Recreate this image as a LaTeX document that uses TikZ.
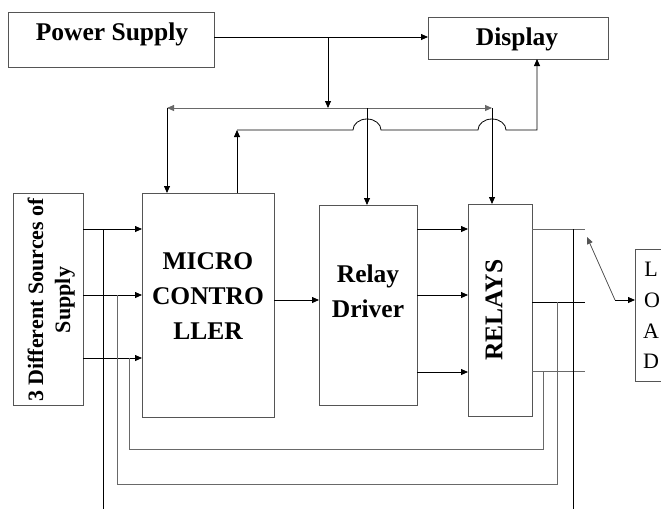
\documentclass[tikz,border=0pt]{standalone}
\usepackage{fontspec}
\setmainfont{Liberation Serif}
\usetikzlibrary{arrows.meta}
\definecolor{boxgray}{RGB}{85,85,85}
\definecolor{linegray}{RGB}{105,105,105}
\begin{document}
\begin{tikzpicture}[x=1pt,y=-1pt,
  box/.style={draw=boxgray, line width=0.9pt, inner sep=0pt, outer sep=0pt},
  lbl/.style={inner sep=0pt, outer sep=0pt, align=center, font=\bfseries\fontsize{25.5}{35}\selectfont},
  lbls/.style={inner sep=0pt, outer sep=0pt, align=center, font=\bfseries\fontsize{22}{27}\selectfont},
  ltr/.style={inner sep=0pt, outer sep=0pt, font=\fontsize{22}{26}\selectfont},
  arr/.style={line width=0.8pt, -{Triangle[length=7pt,width=6pt]}},
  ln/.style={line width=0.8pt},
  gln/.style={line width=0.9pt, draw=linegray},
]
\useasboundingbox (0,0) rectangle (661,509);

% boxes
\node[box, minimum width=206pt, minimum height=55pt] (power) at (111,39.5) {};
\node[box, minimum width=180pt, minimum height=42pt] (display) at (518,38) {};
\node[box, minimum width=70pt, minimum height=212pt] (src) at (48,299) {};
\node[box, minimum width=132pt, minimum height=224pt] (mcu) at (208,305) {};
\node[box, minimum width=98pt, minimum height=200pt] (driver) at (368,305) {};
\node[box, minimum width=64pt, minimum height=212pt] (relays) at (500,310) {};
\draw[draw=boxgray, line width=0.9pt] (661,249) -| (635,381) -- (661,381);
\coordinate (load) at (635,300);

% texts
\node[lbl] (powert) at (112,34.2) {Power Supply};
\node[lbl] (displayt) at (517,39) {Display};
\node[lbl] (mcut) at (208,296) {MICRO\\CONTRO\\LLER};
\node[lbl] (drivert) at (368,291.5) {Relay\\Driver};
\node[lbl, rotate=90] (relayst) at (494,310) {RELAYS};
\node[lbls, rotate=90] (srct) at (51.3,300) {3 Different Sources of\\Supply};
\node[ltr] (l1) at (651,269) {L};
\node[ltr] (l2) at (652,300) {O};
\node[ltr] (l3) at (651,331) {A};
\node[ltr] (l4) at (651,361) {D};

% helper coordinates
\coordinate (ypw) at (0,37);
\coordinate (j1) at (328,37);
\coordinate (busM) at (328,108);
\coordinate (busL) at (167,108);
\coordinate (busR) at (492,108);
\coordinate (busD) at (367,108);
\coordinate (fb0) at (237,193);
\coordinate (fbC) at (237,130);
\coordinate (fbE) at (537,130);
\coordinate (s1) at (0,229);
\coordinate (s2) at (0,295);
\coordinate (s3) at (0,358);
\coordinate (m1) at (0,300);
\coordinate (d1) at (0,229);
\coordinate (d2) at (0,295);
\coordinate (d3) at (0,372);
\coordinate (r1) at (0,229);
\coordinate (r2) at (0,302);
\coordinate (r3) at (0,371);
\coordinate (o1) at (585,229);
\coordinate (o2) at (585,302);
\coordinate (o3) at (585,371);
\coordinate (v1t) at (573,229);
\coordinate (v1b) at (573,509);
\coordinate (v0t) at (103,229);
\coordinate (v0b) at (103,509);
\coordinate (sw) at (615,300);
\coordinate (swt) at (587,237);

% power to display and bus
\draw[arr] (power.east |- ypw) -- (display.west |- ypw);
\draw[arr] (j1) -- (busM);
\draw[gln, -{Triangle[length=7pt,width=6pt]}] (busM) -- (busL);
\draw[gln, -{Triangle[length=7pt,width=6pt]}] (busM) -- (busR);
\draw[arr] (busL) -- (busL |- mcu.north);
\draw[arr] (busR) -- (busR |- relays.north);
\draw[arr] (busD) -- (busD |- driver.north);

% feedback from microcontroller to display with jumps
\draw[arr] (fb0) -- (fbC);
\draw[arr] (fbC) -- (353,130) arc[start angle=180, end angle=0, x radius=14pt, y radius=11pt]
  -- (478,130) arc[start angle=180, end angle=0, x radius=14pt, y radius=11pt]
  -- (fbE) -- (fbE |- display.south);

% sources to microcontroller
\draw[arr] (src.east |- s1) -- (mcu.west |- s1);
\draw[arr] (src.east |- s2) -- (mcu.west |- s2);
\draw[arr] (src.east |- s3) -- (mcu.west |- s3);

% microcontroller to driver
\draw[arr] (mcu.east |- m1) -- (driver.west |- m1);

% driver to relays
\draw[arr] (driver.east |- d1) -- (relays.west |- d1);
\draw[arr] (driver.east |- d2) -- (relays.west |- d2);
\draw[arr] (driver.east |- d3) -- (relays.west |- d3);

% relay outputs
\draw[gln] (relays.east |- r1) -- (o1);
\draw[ln] (relays.east |- r2) -- (o2);
\draw[gln] (relays.east |- r3) -- (o3);

% long verticals
\draw[ln] (v1t) -- (v1b);
\draw[ln] (v0t) -- (v0b);

% feedback loops
\draw[gln] (117,295) -- (117,484) -- (557,484) -- (557,302);
\draw[gln] (129,358) -- (129,449) -- (543,449) -- (543,371);

% switch to load
\draw[arr, draw=boxgray] (sw) -- (swt);
\draw[arr] (sw) -- (load);
\end{tikzpicture}
\end{document}
